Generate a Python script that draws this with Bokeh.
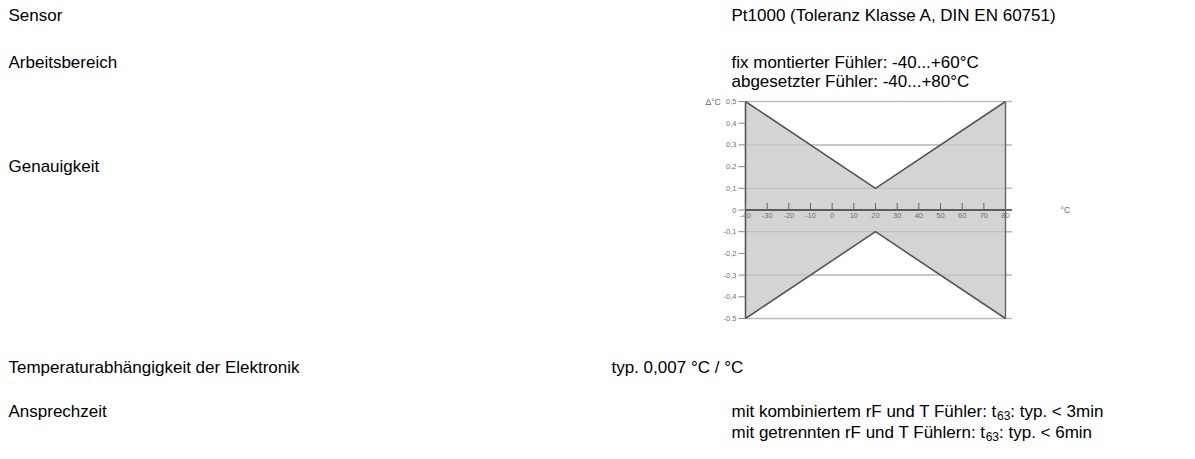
from bokeh.plotting import figure
from bokeh.models import Range1d
from bokeh.core.properties import value
from bokeh.embed import file_html
from bokeh.resources import INLINE

# ---------------- data ----------------
row_labels = ["Sensor", "Arbeitsbereich", "Genauigkeit",
              "Temperaturabhängigkeit der Elektronik", "Ansprechzeit"]
sensor_text = "Pt1000 (Toleranz Klasse A, DIN EN 60751)"
range_lines = ["fix montierter Fühler: -40...+60°C", "abgesetzter Fühler: -40...+80°C"]
electronics_text = "typ. 0,007 °C / °C"
response_pre = ["mit kombiniertem rF und T Fühler: t", "mit getrennten rF und T Fühlern: t"]
response_sub = ["63", "63"]
response_post = [": typ. < 3min", ": typ. < 6min"]

temps = [-40, 20, 80]
upper_tol = [0.5, 0.1, 0.5]
lower_tol = [-0.5, -0.1, -0.5]
x_ticks = [-40, -30, -20, -10, 0, 10, 20, 30, 40, 50, 60, 70, 80]
y_ticks = [0.5, 0.4, 0.3, 0.2, 0.1, 0.0, -0.1, -0.2, -0.3, -0.4, -0.5]
grid_vals = [0.5, 0.3, 0.1, -0.1, -0.3, -0.5]
y_unit = "Δ°C"
x_unit = "°C"

# ---------------- layout ----------------
W, H = 1179, 443
FS = 17
font = value("Liberation Sans")
LEFT_X, VAL_X, TYP_X = 8, 731, 611
row_y = [15, 62, 166, 367, 411]
line_gap = 19
resp_gap = 21

# chart placement (figure pixels)
CX0, CX1 = 745, 1005     # -40 .. 80
CY0, CY1 = 101, 318      # 0.5 .. -0.5
xs = (CX1 - CX0) / (temps[-1] - temps[0])
ys = (CY1 - CY0) / (upper_tol[0] - lower_tol[0])
tx_start = temps[0] - CX0 / xs
ty_end = upper_tol[0] + CY0 / ys

p = figure(width=W, height=H, x_range=Range1d(0, W), y_range=Range1d(H, 0),
           output_backend="svg", toolbar_location=None, min_border=0,
           outline_line_color=None)
p.axis.visible = False
p.grid.visible = False
p.extra_x_ranges = {"t": Range1d(tx_start, tx_start + W / xs)}
p.extra_y_ranges = {"d": Range1d(ty_end - H / ys, ty_end)}

# Arial advance widths (per 1000 em) for subscript placement
AW = {' ': 278, ':': 278, '.': 278, '<': 584, 'F': 611, 'T': 611}
for c in "abdeghnopqu": AW[c] = 556
for c in "ckszvxy": AW[c] = 500
for c in "ijl": AW[c] = 222
for c in "ft": AW[c] = 278
AW['r'] = 333; AW['m'] = 833; AW['w'] = 722; AW['ü'] = 556; AW['ä'] = 556
for c in "0123456789": AW[c] = 556
def tw(s, fs):
    return sum(AW.get(c, 556) for c in s) * fs / 1000.0

def txt(x, y, s, size=FS, color="#000000", align="left", **kw):
    p.text(x=[x], y=[y], text=[s], text_font=font, text_font_size=f"{size}px",
           text_color=color, text_align=align, text_baseline="middle", **kw)

for y, s in zip(row_y, row_labels):
    txt(LEFT_X, y, s)
txt(VAL_X, row_y[0], sensor_text)
for i, s in enumerate(range_lines):
    txt(VAL_X, row_y[1] + i * line_gap, s)
txt(TYP_X, row_y[3], electronics_text)
SUB = 12
for i in range(2):
    y = row_y[4] + i * resp_gap
    txt(VAL_X, y, response_pre[i])
    w1 = tw(response_pre[i], FS)
    txt(VAL_X + w1, y + 4, response_sub[i], size=SUB)
    w2 = tw(response_sub[i], SUB)
    txt(VAL_X + w1 + w2, y, response_post[i])

# ---------------- chart ----------------
R = dict(x_range_name="t", y_range_name="d")
grid_end = temps[-1] + 3
n = len(grid_vals)
p.segment(x0=[temps[0]] * n, y0=grid_vals, x1=[grid_end] * n,
          y1=grid_vals, line_color="#c4c4c4", line_width=1.5, **R)
poly_x = temps + temps[::-1]
poly_y = upper_tol + lower_tol[::-1]
p.patch(x=poly_x, y=poly_y, fill_color="#d4d4d4", line_color=None, **R)
p.segment(x0=[temps[0]] * n, y0=grid_vals, x1=[grid_end] * n,
          y1=grid_vals, line_color="#b5b5b5", line_width=1.2, line_alpha=0.6, **R)
p.line(x=temps, y=upper_tol, line_color="#555555", line_width=1.6, **R)
p.line(x=temps, y=lower_tol, line_color="#555555", line_width=1.6, **R)
p.segment(x0=[temps[-1]], y0=[lower_tol[-1]], x1=[temps[-1]], y1=[upper_tol[-1]],
          line_color="#666666", line_width=1.4, **R)
# y axis
p.segment(x0=[temps[0]], y0=[lower_tol[0]], x1=[temps[0]], y1=[upper_tol[0]],
          line_color="#555555", line_width=1.6, **R)
tick_len = 7 / xs
p.segment(x0=[temps[0] - tick_len] * len(y_ticks), y0=y_ticks,
          x1=[temps[0]] * len(y_ticks), y1=y_ticks, line_color="#888888", line_width=1, **R)
def fmt(v):
    return "0" if abs(v) < 1e-9 else f"{v:.1f}".replace(".", ",")
p.text(x=[temps[0] - tick_len - 2 / xs] * len(y_ticks), y=y_ticks,
       text=[fmt(v) for v in y_ticks], text_font=font, text_font_size="7.5px",
       text_color="#707070", text_align="right", text_baseline="middle", **R)
# zero line (x axis)
p.segment(x0=[temps[0]], y0=[0], x1=[grid_end], y1=[0], line_color="#333333",
          line_width=1.6, **R)
tick_h = 7 / ys
p.segment(x0=x_ticks, y0=[-1 / ys] * len(x_ticks), x1=x_ticks, y1=[tick_h] * len(x_ticks),
          line_color="#666666", line_width=1, **R)
p.text(x=x_ticks, y=[-3 / ys] * len(x_ticks), text=[str(v) for v in x_ticks],
       text_font=font, text_font_size="7.5px", text_color="#707070",
       text_align="center", text_baseline="top", **R)
# unit labels
p.text(x=[temps[0] - 40 / xs], y=[upper_tol[0]], text=[y_unit], text_font=font,
       text_font_size="8.5px", text_color="#666666", text_align="left",
       text_baseline="middle", **R)
p.text(x=[temps[-1] + 55 / xs], y=[0], text=[x_unit], text_font=font,
       text_font_size="8.5px", text_color="#666666", text_align="left",
       text_baseline="middle", **R)

open("out.html", "w").write(file_html(p, INLINE))
